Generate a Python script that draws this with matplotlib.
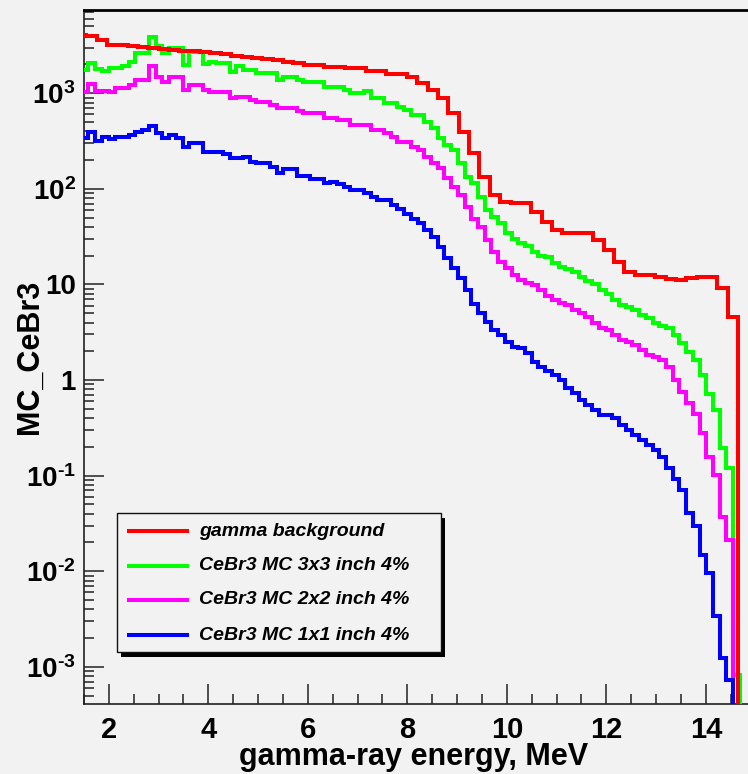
import numpy as np
import matplotlib
matplotlib.use('Agg')
import matplotlib.pyplot as plt
from matplotlib.ticker import FixedLocator, FixedFormatter, MultipleLocator, LogLocator, NullFormatter
from matplotlib.patches import Rectangle
from matplotlib.lines import Line2D

plt.rcParams['font.family'] = ['Liberation Sans', 'DejaVu Sans']
plt.rcParams['mathtext.fontset'] = 'custom'
plt.rcParams['mathtext.rm'] = 'Liberation Sans:bold'
plt.rcParams['mathtext.bf'] = 'Liberation Sans:bold'
plt.rcParams['mathtext.it'] = 'Liberation Sans:bold:italic'

# ---------------- data (log10 of counts per bin) -------------
red_first_edge, red_bin_width = 1.338, 0.208
mc_first_edge, mc_bin_width = 1.455, 0.135

red_log10 = [3.61, 3.60, 3.56, 3.51, 3.50, 3.495, 3.485, 3.475, 3.465, 3.455,
             3.446, 3.44, 3.43, 3.42, 3.41, 3.395, 3.38, 3.366, 3.355, 3.345,
             3.33, 3.315, 3.296, 3.296, 3.278, 3.278, 3.262, 3.262, 3.236, 3.236,
             3.202, 3.202, 3.167, 3.105, 3.035, 2.948, 2.79, 2.598, 2.372, 2.128,
             1.936, 1.866, 1.849, 1.849, 1.761, 1.657, 1.570, 1.536, 1.536, 1.536,
             1.465, 1.361, 1.239, 1.134, 1.10, 1.10, 1.082, 1.058, 1.047, 1.065,
             1.082, 1.075, 0.96, 0.663]

green_log10 = [3.244, 3.32, 3.25, 3.236, 3.26, 3.26, 3.28, 3.33, 3.42, 3.42,
               3.59, 3.49, 3.42, 3.47, 3.47, 3.30, 3.435, 3.435, 3.31, 3.33,
               3.32, 3.32, 3.226, 3.28, 3.244, 3.244, 3.21, 3.21, 3.21, 3.14,
               3.17, 3.17, 3.14, 3.12, 3.12, 3.12, 3.07, 3.07, 3.07, 3.035,
               3.006, 3.006, 3.027, 2.948, 2.948, 2.895, 2.895, 2.86, 2.825, 2.773,
               2.773, 2.70, 2.634, 2.53, 2.46, 2.41, 2.27, 2.128, 2.06, 1.918,
               1.78, 1.71, 1.64, 1.536, 1.473, 1.437, 1.40, 1.343, 1.30, 1.284,
               1.222, 1.18, 1.16, 1.134, 1.08, 1.04, 1.01, 0.942, 0.90, 0.838,
               0.785, 0.76, 0.733, 0.68, 0.646, 0.594, 0.565, 0.542, 0.47, 0.385,
               0.297, 0.21, 0.05, -0.15, -0.31, -0.71, -0.92, -3.08]

magenta_log10 = [3.017, 3.10, 3.027, 3.027, 3.017, 3.05, 3.05, 3.087, 3.14, 3.14,
                 3.28, 3.17, 3.12, 3.167, 3.167, 3.035, 3.087, 3.087, 3.035, 3.017,
                 3.017, 3.017, 2.948, 2.965, 2.965, 2.93, 2.912, 2.912, 2.88, 2.843,
                 2.843, 2.843, 2.81, 2.79, 2.79, 2.79, 2.74, 2.74, 2.72, 2.72,
                 2.668, 2.668, 2.668, 2.616, 2.616, 2.58, 2.54, 2.494, 2.494, 2.44,
                 2.41, 2.337, 2.27, 2.215, 2.11, 2.02, 1.936, 1.81, 1.69, 1.605,
                 1.465, 1.34, 1.24, 1.17, 1.10, 1.047, 1.02, 0.995, 0.942, 0.88,
                 0.838, 0.81, 0.785, 0.733, 0.70, 0.663, 0.594, 0.542, 0.52, 0.47,
                 0.42, 0.40, 0.367, 0.315, 0.263, 0.24, 0.21, 0.14, 0.0, -0.12,
                 -0.24, -0.35, -0.557, -0.80, -0.99, -1.43, -1.67]

blue_log10 = [2.53, 2.59, 2.504, 2.54, 2.522, 2.54, 2.54, 2.564, 2.598, 2.616,
              2.66, 2.58, 2.53, 2.564, 2.53, 2.44, 2.477, 2.477, 2.39, 2.39,
              2.39, 2.365, 2.32, 2.32, 2.337, 2.284, 2.27, 2.27, 2.232, 2.17,
              2.205, 2.205, 2.135, 2.135, 2.10, 2.10, 2.06, 2.075, 2.05, 2.017,
              1.99, 1.99, 1.954, 1.912, 1.884, 1.884, 1.83, 1.787, 1.737, 1.69,
              1.64, 1.57, 1.5, 1.395, 1.274, 1.17, 1.065, 0.942, 0.80, 0.70,
              0.61, 0.524, 0.47, 0.40, 0.35, 0.333, 0.28, 0.19, 0.14, 0.10,
              0.05, 0.0, -0.08, -0.14, -0.21, -0.26, -0.31, -0.365, -0.365, -0.40,
              -0.47, -0.52, -0.57, -0.63, -0.68, -0.73, -0.80, -0.92, -1.03, -1.15,
              -1.39, -1.53, -1.83, -2.02, -2.47, -2.91, -3.14]

series_labels = ['gamma background', 'CeBr3 MC 3x3 inch 4%',
                 'CeBr3 MC 2x2 inch 4%', 'CeBr3 MC 1x1 inch 4%']
series_colors = ['#ff0000', '#00ff00', '#ff00ff', '#0000ff']

x_major = [2, 4, 6, 8, 10, 12, 14]
y_major = [1e-3, 1e-2, 1e-1, 1, 10, 1e2, 1e3]
y_major_labels = ['$10^{\u2010 3}$', '$10^{\u2010 2}$', '$10^{\u2010 1}$', '1', '10',
                  '$10^{2}$', '$10^{3}$']

# --------------------------------------------------------------------------------
W, H = 748, 774
fig = plt.figure(figsize=(W / 100, H / 100), dpi=100)
bg = '#f2f2f2'
fig.patch.set_facecolor(bg)

ax_l, ax_r, ax_t, ax_b = 84, 755.6, 10, 704
ax = fig.add_axes([ax_l / W, 1 - ax_b / H, (ax_r - ax_l) / W, (ax_b - ax_t) / H])
ax.set_facecolor(bg)


def hist(log_vals, first_edge, width):
    vals = np.append(10.0 ** np.array(log_vals), 0.0)
    edges = first_edge + width * np.arange(len(vals) + 1)
    vals = np.where(vals > 0, vals, 1e-12)
    return vals, edges


lw = 2.9
g_v, g_e = hist(green_log10, mc_first_edge, mc_bin_width)
m_v, m_e = hist(magenta_log10, mc_first_edge, mc_bin_width)
b_v, b_e = hist(blue_log10, mc_first_edge, mc_bin_width)
r_v, r_e = hist(red_log10, red_first_edge, red_bin_width)

ax.stairs(g_v, g_e, color=series_colors[1], lw=lw, baseline=None, zorder=3)
ax.stairs(m_v, m_e, color=series_colors[2], lw=lw, baseline=None, zorder=3)
ax.stairs(b_v, b_e, color=series_colors[3], lw=lw, baseline=None, zorder=3)
ax.stairs(r_v, r_e, color=series_colors[0], lw=lw, baseline=None, zorder=4)

ax.set_yscale('log')
ax.set_xlim(1.5, 15.0)
ax.set_ylim(4.09e-4, 7430)

ax.xaxis.set_major_locator(FixedLocator(x_major))
ax.xaxis.set_minor_locator(MultipleLocator(0.5))
ax.yaxis.set_major_locator(FixedLocator(y_major))
ax.yaxis.set_major_formatter(FixedFormatter(y_major_labels))
ax.yaxis.set_minor_locator(LogLocator(base=10, subs=np.arange(2, 10)))
ax.yaxis.set_minor_formatter(NullFormatter())

ax.tick_params(which='both', direction='in', top=False, right=False, colors='#222222')
ax.tick_params(which='major', length=14.5, width=1.1, labelsize=20, pad=6)
ax.tick_params(which='minor', length=7.5, width=1.1)
ax.tick_params(axis='x', which='major', pad=9, labelsize=21)
for lab in ax.get_xticklabels() + ax.get_yticklabels():
    lab.set_fontweight('bold')
    lab.set_color('black')

for s in ['left', 'bottom']:
    ax.spines[s].set_linewidth(1.2)
    ax.spines[s].set_color('#222222')
ax.spines['top'].set_linewidth(2.0)
ax.spines['top'].set_color('black')
ax.spines['right'].set_visible(False)

fig.text(414 / W, 1 - 757 / H, 'gamma-ray energy, MeV', fontsize=22, fontweight='bold',
         ha='center', va='center')
fig.text(30 / W, 1 - 357 / H, 'MC_CeBr3', fontsize=22, fontweight='bold',
         rotation=90, ha='center', va='center')

# legend (ROOT style box with black shadow)
lx0, ly0, lx1, ly1 = 117, 513, 441, 652
fig.add_artist(Rectangle(((lx0 + 4) / W, 1 - (ly1 + 5) / H), (lx1 - lx0) / W, (ly1 - ly0) / H,
                         transform=fig.transFigure, facecolor='black', edgecolor='black',
                         lw=0, zorder=10))
fig.add_artist(Rectangle((lx0 / W, 1 - ly1 / H), (lx1 - lx0) / W, (ly1 - ly0) / H,
                         transform=fig.transFigure, facecolor=bg, edgecolor='#111111',
                         lw=1.0, zorder=11))
rows = [531, 566, 600, 635]
for yrow, lab, col in zip(rows, series_labels, series_colors):
    fig.add_artist(Line2D([129 / W, 187 / W], [1 - yrow / H, 1 - yrow / H],
                          transform=fig.transFigure, color=col, lw=lw, zorder=12))
    fig.text(199 / W, 1 - yrow / H, lab, fontsize=14, fontweight='bold', fontstyle='italic',
             ha='left', va='center', zorder=13)

fig.savefig('out.png', dpi=100, facecolor=bg)
